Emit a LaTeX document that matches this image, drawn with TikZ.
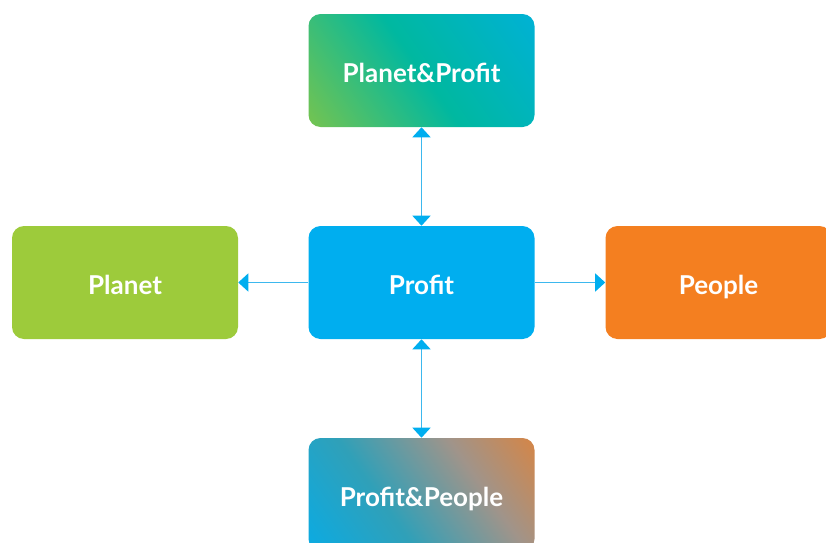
\documentclass[tikz,border=0pt]{standalone}
\usepackage{fontspec}
\setmainfont{Lato}[BoldFont=* Bold]
\usetikzlibrary{arrows.meta}
\definecolor{cblue}{HTML}{00AEEF}
\definecolor{cgreen}{HTML}{9DCB3B}
\definecolor{corange}{HTML}{F47F20}
\definecolor{cline}{HTML}{3DB8EE}
\definecolor{gA}{HTML}{8DC63F}
\definecolor{gB}{HTML}{00B8A0}
\definecolor{gC}{HTML}{00B0E0}
\definecolor{hA}{HTML}{00AEEF}
\definecolor{hB}{HTML}{30A0B8}
\definecolor{hD}{HTML}{A0948A}
\definecolor{hC}{HTML}{E8802E}
\pgfdeclarehorizontalshading{gpp}{100bp}{color(0bp)=(gA); color(8bp)=(gA); color(50bp)=(gB); color(92bp)=(gC); color(100bp)=(gC)}
\pgfdeclarehorizontalshading{gpe}{100bp}{color(0bp)=(hA); color(8bp)=(hA); color(40bp)=(hB); color(65bp)=(hD); color(92bp)=(hC); color(100bp)=(hC)}
\tikzset{
  boxst/.style={rounded corners=9pt, minimum width=226*0.75pt, minimum height=113*0.75pt,
    inner sep=0pt, text=white, font=\fontsize{19.5}{22}\selectfont\bfseries,
    text height=18.5pt, text depth=0pt},
  conn/.style={draw=cline, line width=1pt},
  tip/.style={-{Triangle[width=13.5pt,length=7.5pt,fill=cblue,color=cblue]}},
  tips/.style={{Triangle[width=13.5pt,length=7.5pt,fill=cblue,color=cblue]}-{Triangle[width=13.5pt,length=7.5pt,fill=cblue,color=cblue]}}
}
\begin{document}
\begin{tikzpicture}[x=0.75pt,y=-0.75pt]
\useasboundingbox (0,0) rectangle (826,543);
\clip (0,0) rectangle (826,543);
\node[boxst, shading=gpp, shading angle=35] (pp) at (421.5,70.5) {Planet\&Profit};
\node[boxst, fill=cblue] (pr) at (421.5,282.5) {Profit};
\node[boxst, fill=cgreen] (pl) at (125,282.5) {Planet};
\node[boxst, fill=corange] (pe) at (718.5,282.5) {People};
\node[boxst, shading=gpe, shading angle=35] (pf) at (421.5,494.5) {Profit\&People};
\draw[conn, tips] (pp.south) -- (pr.north);
\draw[conn, tips] (pr.south) -- (pf.north);
\draw[conn, tip] (pr.west) -- (pl.east);
\draw[conn, tip] (pr.east) -- (pe.west);
\end{tikzpicture}
\end{document}
